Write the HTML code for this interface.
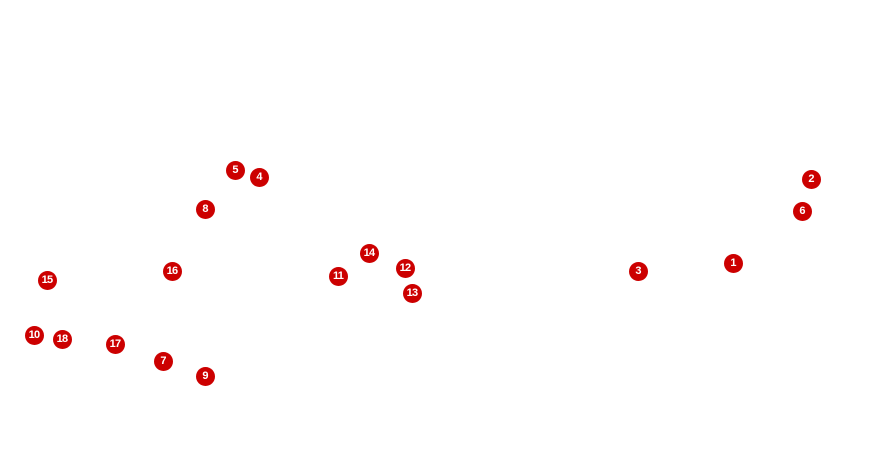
<!DOCTYPE html>
<html><head><style>
html,body{margin:0;padding:0;background:#fff;}
body{width:895px;height:460px;position:relative;overflow:hidden;}
.m{position:absolute;width:19px;height:19px;margin:-9.5px 0 0 -9.5px;border-radius:50%;background:#cc0000;color:#fff;font:bold 11px/19px "Liberation Sans",sans-serif;text-align:center;letter-spacing:-0.8px;}
</style></head><body>
<div class="m" style="left:733px;top:263px">1</div>
<div class="m" style="left:811px;top:179px">2</div>
<div class="m" style="left:638px;top:271px">3</div>
<div class="m" style="left:259px;top:177px">4</div>
<div class="m" style="left:235px;top:170px">5</div>
<div class="m" style="left:802px;top:211px">6</div>
<div class="m" style="left:163px;top:361px">7</div>
<div class="m" style="left:205px;top:209px">8</div>
<div class="m" style="left:205px;top:376px">9</div>
<div class="m" style="left:34px;top:335px">10</div>
<div class="m" style="left:338px;top:276px">11</div>
<div class="m" style="left:405px;top:268px">12</div>
<div class="m" style="left:412px;top:293px">13</div>
<div class="m" style="left:369px;top:253px">14</div>
<div class="m" style="left:47px;top:280px">15</div>
<div class="m" style="left:172px;top:271px">16</div>
<div class="m" style="left:115px;top:344px">17</div>
<div class="m" style="left:62px;top:339px">18</div>
</body></html>
